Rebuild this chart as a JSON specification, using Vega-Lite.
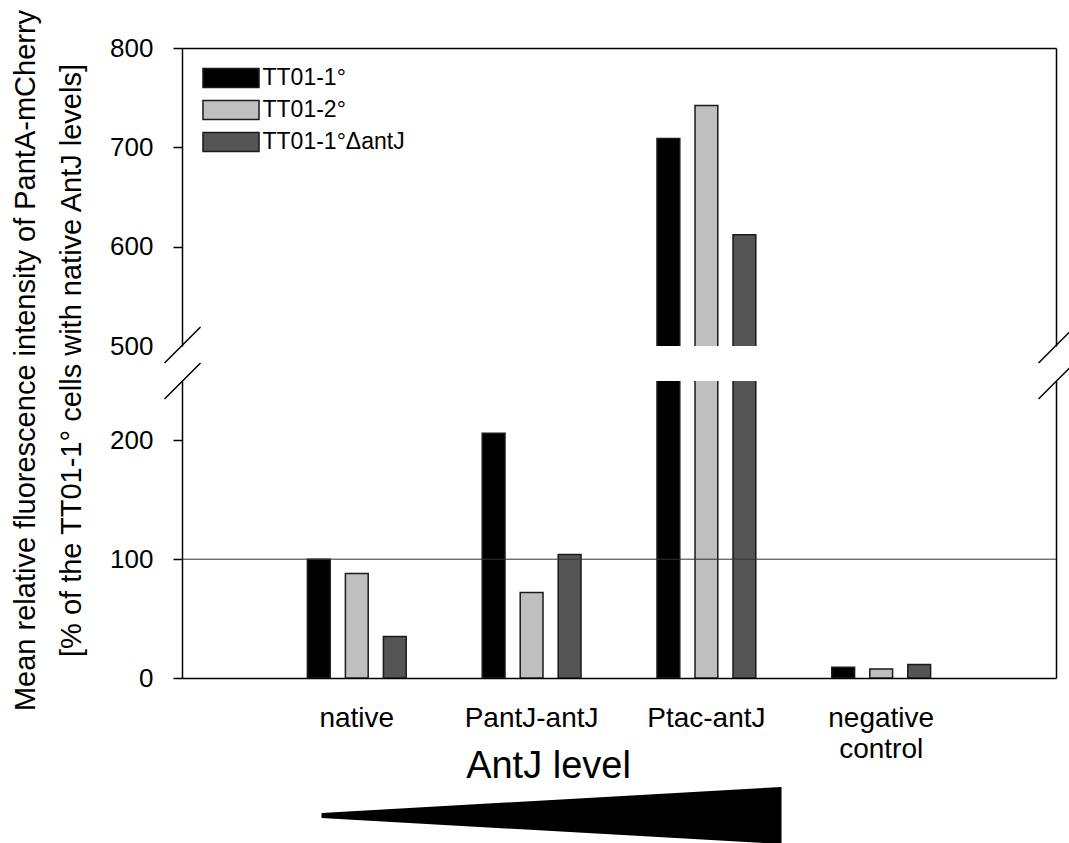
{
  "$schema": "https://vega.github.io/schema/vega-lite/v6.json",
  "padding": {"left": 10, "top": 9, "right": 5, "bottom": 0},
  "background": "white",
  "config": {
    "view": {"stroke": null},
    "font": "Liberation Sans",
    "axis": {
      "domainColor": "black", "domainWidth": 1.5,
      "tickColor": "black", "tickWidth": 1.5, "tickSize": 9,
      "labelColor": "black", "titleColor": "black",
      "labelFont": "Liberation Sans", "titleFont": "Liberation Sans",
      "grid": false
    }
  },
  "datasets": {
    "bars": [
      {"group": "native", "strain": "TT01-1°", "value": 100},
      {"group": "native", "strain": "TT01-2°", "value": 88},
      {"group": "native", "strain": "TT01-1°ΔantJ", "value": 35},
      {"group": "PantJ-antJ", "strain": "TT01-1°", "value": 206},
      {"group": "PantJ-antJ", "strain": "TT01-2°", "value": 72},
      {"group": "PantJ-antJ", "strain": "TT01-1°ΔantJ", "value": 104},
      {"group": "Ptac-antJ", "strain": "TT01-1°", "value": 709},
      {"group": "Ptac-antJ", "strain": "TT01-2°", "value": 742},
      {"group": "Ptac-antJ", "strain": "TT01-1°ΔantJ", "value": 612},
      {"group": "negative control", "strain": "TT01-1°", "value": 9},
      {"group": "negative control", "strain": "TT01-2°", "value": 7.6},
      {"group": "negative control", "strain": "TT01-1°ΔantJ", "value": 11.3}
    ],
    "breaksUpper": [
      {"bx": -0.02, "bx2": 0.0212, "by": 482.9, "by2": 519.1},
      {"bx": 0.98, "bx2": 1.0212, "by": 482.9, "by2": 519.1}
    ],
    "breaksLower": [
      {"bx": -0.02, "bx2": 0.0212, "by": 234.8, "by2": 265.2},
      {"bx": 0.98, "bx2": 1.0212, "by": 234.8, "by2": 265.2}
    ],
    "refline": [{"ref": 100}],
    "wedge": [
      {"pos": 0, "lo": -0.088, "hi": 0.088},
      {"pos": 1, "lo": -1, "hi": 1}
    ]
  },
  "bounds": "flush",
  "spacing": 35,
  "resolve": {"legend": {"color": "independent"}},
  "vconcat": [
    {
      "width": 874,
      "height": 298,
      "layer": [
        {
          "data": {"name": "bars"},
          "mark": {"type": "bar", "stroke": "#1a1a1a", "strokeWidth": 1.5, "clip": true},
          "encoding": {
            "x": {
              "field": "group", "type": "nominal",
              "sort": ["native", "PantJ-antJ", "Ptac-antJ", "negative control"],
              "scale": {"paddingInner": 0, "paddingOuter": 0.5},
              "axis": {"orient": "top", "labels": false, "ticks": false, "title": null}
            },
            "xOffset": {
              "field": "strain", "type": "nominal",
              "scale": {"domain": ["TT01-1°", "TT01-2°", "TT01-1°ΔantJ"], "paddingInner": 0.4, "paddingOuter": 1.197}
            },
            "y": {
              "field": "value", "type": "quantitative",
              "scale": {"domain": [500, 800], "nice": false, "zero": false},
              "axis": {
                "values": [500, 600, 700, 800],
                "labelFontSize": 26, "labelPadding": 20,
                "tickOpacity": {"condition": {"test": "datum.value == 500", "value": 0}, "value": 1},
                "title": ["Mean relative fluorescence intensity of PantA-mCherry", "[% of the TT01-1° cells with native AntJ levels]"],
                "titleFontSize": 29, "titleFontWeight": "normal", "titleLineHeight": 46,
                "titleX": -148, "titleY": 312, "titleBaseline": "alphabetic", "titleAlign": "center", "titleAngle": -90
              }
            },
            "color": {
              "field": "strain", "type": "nominal",
              "scale": {"domain": ["TT01-1°", "TT01-2°", "TT01-1°ΔantJ"], "range": ["#000000", "#bfbfbf", "#555555"]},
              "legend": {
                "orient": "none", "legendX": 37.5, "legendY": 18.5, "title": null, "padding": 0,
                "symbolType": "M-2.95,-1H2.95V1H-2.95Z", "symbolSize": 361,
                "symbolStrokeColor": "#1a1a1a", "symbolStrokeWidth": 1.5, "symbolOpacity": 1,
                "labelFontSize": 23, "labelOffset": 20, "labelColor": "black", "rowPadding": 7,
                "labelLimit": 400
              }
            }
          }
        },
        {
          "data": {"name": "breaksUpper"},
          "mark": {"type": "rule", "clip": false, "strokeWidth": 1.5, "color": "black"},
          "encoding": {
            "x": {"field": "bx", "type": "quantitative", "scale": {"domain": [0, 1], "nice": false, "zero": false}, "axis": null},
            "x2": {"field": "bx2"},
            "y": {"field": "by", "type": "quantitative", "axis": {"orient": "right", "labels": false, "ticks": false, "title": null}},
            "y2": {"field": "by2"}
          }
        }
      ],
      "resolve": {"scale": {"x": "independent"}, "axis": {"y": "independent"}}
    },
    {
      "width": 874,
      "height": 297,
      "layer": [
        {
          "data": {"name": "bars"},
          "mark": {"type": "bar", "stroke": "#1a1a1a", "strokeWidth": 1.5, "clip": true},
          "encoding": {
            "x": {
              "field": "group", "type": "nominal",
              "sort": ["native", "PantJ-antJ", "Ptac-antJ", "negative control"],
              "scale": {"paddingInner": 0, "paddingOuter": 0.5},
              "axis": {
                "orient": "bottom", "ticks": false, "labelAngle": 0,
                "labelFontSize": 28, "labelPadding": 26, "labelLineHeight": 31,
                "labelExpr": "split(datum.label, ' ')",
                "title": "AntJ level", "titleFontSize": 38, "titleFontWeight": "normal",
                "titleX": 366, "titleY": 99, "titleBaseline": "alphabetic", "titleAlign": "center"
              }
            },
            "xOffset": {
              "field": "strain", "type": "nominal",
              "scale": {"domain": ["TT01-1°", "TT01-2°", "TT01-1°ΔantJ"], "paddingInner": 0.4, "paddingOuter": 1.197}
            },
            "y": {
              "field": "value", "type": "quantitative",
              "scale": {"domain": [0, 250], "nice": false},
              "axis": {"values": [0, 100, 200], "labelFontSize": 26, "labelPadding": 20, "title": null}
            },
            "color": {
              "field": "strain", "type": "nominal",
              "scale": {"domain": ["TT01-1°", "TT01-2°", "TT01-1°ΔantJ"], "range": ["#000000", "#bfbfbf", "#555555"]},
              "legend": null
            }
          }
        },
        {
          "data": {"name": "refline"},
          "mark": {"type": "rule", "color": "#333333", "strokeWidth": 1},
          "encoding": {
            "y": {"field": "ref", "type": "quantitative", "axis": null}
          }
        },
        {
          "data": {"name": "breaksLower"},
          "mark": {"type": "rule", "clip": false, "strokeWidth": 1.5, "color": "black"},
          "encoding": {
            "x": {"field": "bx", "type": "quantitative", "scale": {"domain": [0, 1], "nice": false, "zero": false}, "axis": null},
            "x2": {"field": "bx2"},
            "y": {"field": "by", "type": "quantitative", "axis": {"orient": "right", "labels": false, "ticks": false, "title": null}},
            "y2": {"field": "by2"}
          }
        }
      ],
      "resolve": {"scale": {"x": "independent"}, "axis": {"y": "independent"}}
    },
    {
      "width": 874,
      "height": 131,
      "data": {"name": "wedge"},
      "mark": {"type": "area", "color": "black", "orient": "vertical"},
      "encoding": {
        "x": {"field": "pos", "type": "quantitative", "scale": {"domain": [-0.3033, 1.5967], "nice": false, "zero": false}, "axis": null},
        "y": {"field": "lo", "type": "quantitative", "scale": {"domain": [-1, 3.596], "nice": false, "zero": false}, "axis": null},
        "y2": {"field": "hi"}
      }
    }
  ]
}
